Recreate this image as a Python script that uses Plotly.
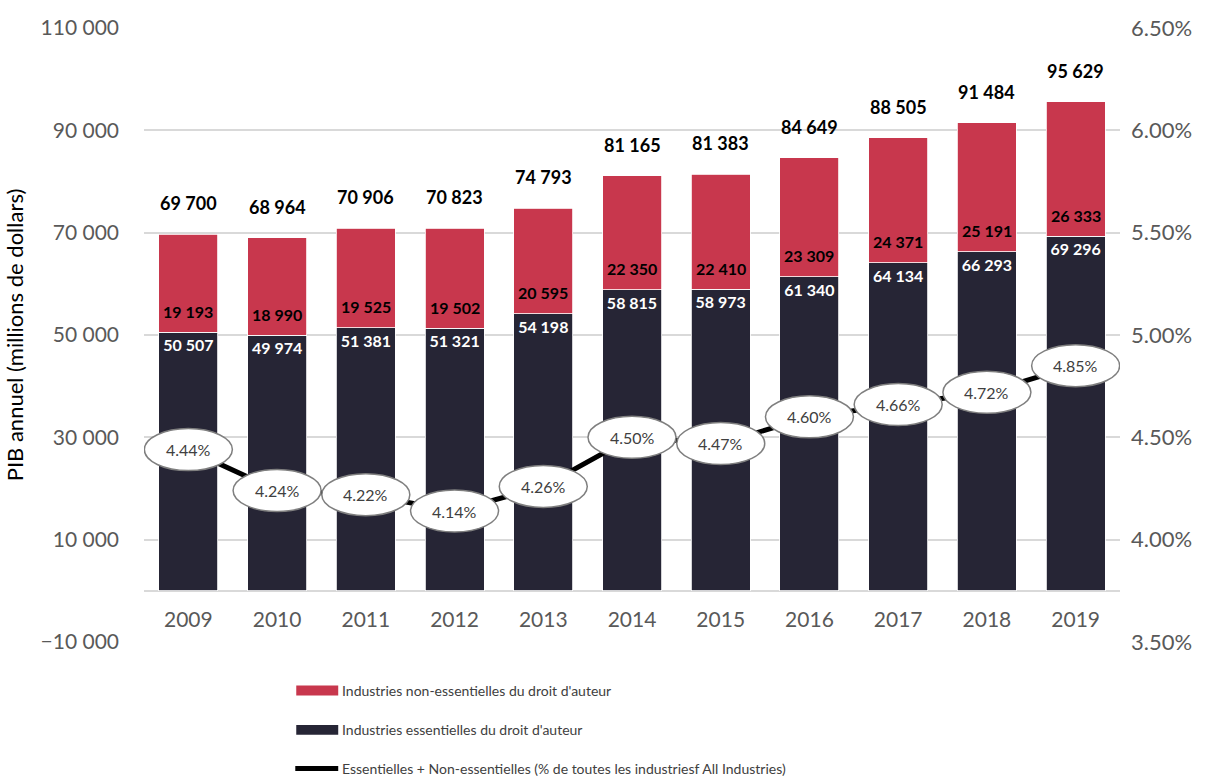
import plotly.graph_objects as go

years = ["2009", "2010", "2011", "2012", "2013", "2014", "2015", "2016", "2017", "2018", "2019"]
core = [50507, 49974, 51381, 51321, 54198, 58815, 58973, 61340, 64134, 66293, 69296]
non_core = [19193, 18990, 19525, 19502, 20595, 22350, 22410, 23309, 24371, 25191, 26333]
share = [0.0444, 0.0424, 0.0422, 0.0414, 0.0426, 0.0450, 0.0447, 0.0460, 0.0466, 0.0472, 0.0485]

name_non_core = "Industries non-essentielles du droit d'auteur"
name_core = "Industries essentielles du droit d'auteur"
name_share = "Essentielles + Non-essentielles (% de toutes les industriesf All Industries)"

RED = "#C8374D"
NAVY = "#262535"
FONT = "Lato, 'Open Sans', sans-serif"
GREY = "#595959"

totals = [a + b for a, b in zip(core, non_core)]


def fmt(v):
    return f"{v:,}".replace(",", " ")


fig = go.Figure()

fig.add_trace(go.Bar(
    x=years, y=core, name=name_core, marker=dict(color=NAVY, line=dict(color="white", width=0.8)),
    text=[fmt(v) for v in core], textposition="inside", insidetextanchor="end",
    textangle=0, textfont=dict(color="white", size=16, family=FONT, weight="bold"),
    constraintext="none", cliponaxis=False,
))
fig.add_trace(go.Bar(
    x=years, y=non_core, name=name_non_core, marker=dict(color=RED, line=dict(color="white", width=0.8)),
))
fig.add_trace(go.Scatter(
    x=years, y=share, name=name_share, yaxis="y2", mode="lines",
    line=dict(color="black", width=5), cliponaxis=False,
))

# Non-core values sit just above the base of the red segment
for i, (c, n) in enumerate(zip(core, non_core)):
    fig.add_annotation(x=i, y=c, xref="x", yref="y", text=f"<b>{fmt(n)}</b>",
                       showarrow=False, yanchor="middle", yshift=21,
                       font=dict(size=16, color="black", family=FONT))

# Totals above each stacked bar (category axis positions are serial indices)
for i, t in enumerate(totals):
    fig.add_annotation(x=i, y=t, xref="x", yref="y", text=f"<b>{fmt(t)}</b>",
                       showarrow=False, yanchor="bottom", yshift=18,
                       font=dict(size=18, color="black", family=FONT))

# Oval callouts for the share line
for i, s in enumerate(share):
    fig.add_shape(type="circle", xref="x", yref="y2", xsizemode="pixel", ysizemode="pixel",
                  xanchor=i, yanchor=s, x0=-44, x1=44, y0=-21, y1=21,
                  fillcolor="white", line=dict(color="#7F7F7F", width=1.5), layer="above")
    fig.add_annotation(x=i, y=s, xref="x", yref="y2", text=f"{s:.2%}", showarrow=False,
                       font=dict(size=16, color="#404040", family=FONT))

# Legend drawn below the plot
leg_x0, leg_x1 = 0.156, 0.199
items = [(name_non_core, RED, "rect"), (name_core, NAVY, "rect"), (name_share, "black", "line")]
leg_y = [-0.079, -0.143, -0.206]
for (label, col, kind), yy in zip(items, leg_y):
    if kind == "rect":
        fig.add_shape(type="rect", xref="paper", yref="paper",
                      x0=leg_x0, x1=leg_x1, y0=yy - 0.008, y1=yy + 0.008,
                      fillcolor=col, line=dict(width=0))
    else:
        fig.add_shape(type="line", xref="paper", yref="paper",
                      x0=leg_x0 - 0.001, x1=leg_x1, y0=yy, y1=yy,
                      line=dict(color=col, width=5))
    fig.add_annotation(x=leg_x1 + 0.002, y=yy, xref="paper", yref="paper", text=label,
                       showarrow=False, xanchor="left", yanchor="middle",
                       font=dict(size=14, color="#404040", family=FONT))

fig.update_layout(
    width=1206, height=777,
    margin=dict(l=144, r=86, t=28, b=135),
    barmode="stack", bargap=0.335,
    plot_bgcolor="white", paper_bgcolor="white",
    separators=". ",
    showlegend=False,
    font=dict(family=FONT, color=GREY),
    xaxis=dict(
        type="category", categoryorder="array", categoryarray=years,
        range=[-0.5, len(years) - 0.5], autorange=False,
        anchor="free", position=0.083,
        showgrid=False, showline=False, ticks="",
        tickfont=dict(size=21, color=GREY), ticklabelstandoff=14,
    ),
    yaxis=dict(
        range=[-10000, 110000], tick0=-10000, dtick=20000, tickformat=",d",
        showgrid=True, gridcolor="#D9D9D9", gridwidth=1.5,
        zeroline=True, zerolinecolor="#D9D9D9", zerolinewidth=1.5,
        tickfont=dict(size=21, color=GREY), ticklabelstandoff=24,
        title=dict(text="PIB annuel (millions de dollars)", font=dict(size=22, color="black"), standoff=10),
    ),
    yaxis2=dict(
        overlaying="y", side="right", range=[0.035, 0.065], dtick=0.005, tick0=0.035,
        tickformat=".2%", showgrid=False, zeroline=False,
        tickfont=dict(size=22, color=GREY), ticklabelstandoff=10,
    ),
)

fig.write_html("out.html")
